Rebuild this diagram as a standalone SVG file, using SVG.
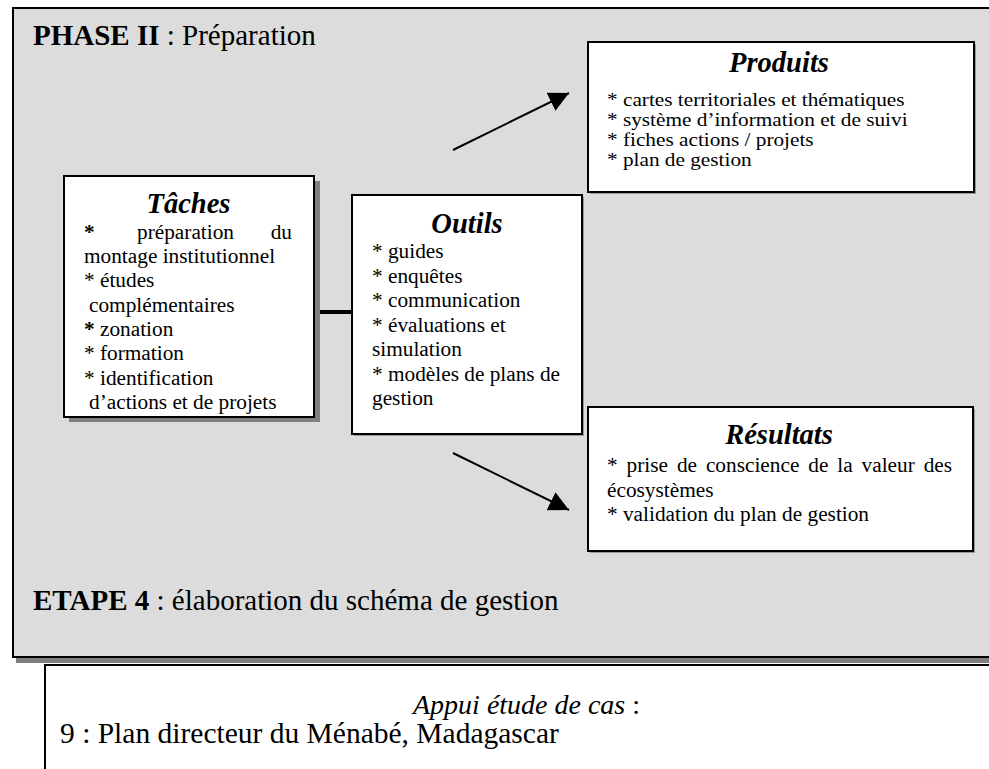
<svg xmlns="http://www.w3.org/2000/svg" width="989" height="769" viewBox="0 0 989 769">
  <style>
    text { font-family: "Liberation Serif", "Times New Roman", serif; fill: #000; }
    .body { font-size: 21.3px; }
    .tight { font-size: 18.5px; }
    .title { font-size: 28.5px; font-weight: bold; font-style: italic; text-anchor: middle; }
    .head { font-size: 29px; }
    .foot { font-size: 28px; }
    .foot-wide { font-size: 29.5px; }
    .b { font-weight: bold; }
    .i { font-style: italic; }
    .box { fill: #fff; stroke: #000; stroke-width: 2; }
    .shadow { fill: #808080; }
    .edge { fill: #9a9a9a; }
    .link { stroke: #000; fill: none; }
  </style>
  <defs>
    <marker id="arrow" viewBox="0 0 20 20" refX="20" refY="10" markerWidth="20" markerHeight="20" markerUnits="userSpaceOnUse" orient="auto">
      <path d="M0,0 L20,10 L0,20 Z" fill="#000"/>
    </marker>
  </defs>

  <!-- phase frame with drop shadow -->
  <g id="phase-frame">
    <rect class="shadow" x="16" y="12" width="990" height="651"/>
    <rect x="13" y="8" width="990" height="649" fill="#DCDCDC" stroke="#000" stroke-width="2"/>
    <text class="head" x="33" y="45"><tspan class="b">PHASE II</tspan> : Préparation</text>
    <text class="head" x="33" y="610"><tspan class="b">ETAPE 4</tspan> : élaboration du schéma de gestion</text>
  </g>

  <!-- connectors -->
  <g id="connectors">
    <line class="link" x1="314" y1="312" x2="352" y2="312" stroke-width="4"/>
    <line class="link" x1="453" y1="150" x2="569" y2="93" stroke-width="2" marker-end="url(#arrow)"/>
    <line class="link" x1="453" y1="453" x2="569" y2="510" stroke-width="2" marker-end="url(#arrow)"/>
  </g>

  <g id="taches">
    <rect class="shadow" x="69" y="181" width="251" height="241"/>
    <rect class="box" x="64" y="176" width="250" height="241"/>
    <text class="title" x="188.5" y="213">Tâches</text>
    <text class="body" y="239"><tspan class="b" x="84">*</tspan><tspan x="137">préparation</tspan><tspan x="292" text-anchor="end">du</tspan></text>
    <text class="body" x="84" y="263">montage institutionnel</text>
    <text class="body" x="84" y="287">* études</text>
    <text class="body" x="89" y="312">complémentaires</text>
    <text class="body" x="84" y="336"><tspan class="b">*</tspan> zonation</text>
    <text class="body" x="84" y="360">* formation</text>
    <text class="body" x="84" y="385">* identification</text>
    <text class="body" x="89" y="409">d’actions et de projets</text>
  </g>

  <g id="outils">
    <rect class="edge" x="354" y="197" width="230" height="239"/>
    <rect class="box" x="352" y="195" width="230" height="239"/>
    <text class="title" x="467" y="233">Outils</text>
    <text class="body" x="372" y="258">* guides</text>
    <text class="body" x="372" y="282.5">* enquêtes</text>
    <text class="body" x="372" y="307">* communication</text>
    <text class="body" x="372" y="331.5">* évaluations et</text>
    <text class="body" x="372" y="356">simulation</text>
    <text class="body" x="372" y="380.5">* modèles de plans de</text>
    <text class="body" x="372" y="405">gestion</text>
  </g>

  <g id="produits">
    <rect class="edge" x="590" y="44" width="386" height="150"/>
    <rect class="box" x="588" y="42" width="386" height="150"/>
    <text class="title" x="779" y="72">Produits</text>
    <!-- tightly spaced list: narrower type widened back to the column width -->
    <g transform="matrix(1.15,0,0,1,-91.05,0)">
      <text class="tight" x="607" y="106">* cartes territoriales et thématiques</text>
      <text class="tight" x="607" y="126">* système d’information et de suivi</text>
      <text class="tight" x="607" y="146">* fiches actions / projets</text>
      <text class="tight" x="607" y="166">* plan de gestion</text>
    </g>
  </g>

  <g id="resultats">
    <rect class="edge" x="590" y="409" width="385" height="144"/>
    <rect class="box" x="588" y="407" width="385" height="144"/>
    <text class="title" x="779" y="444">Résultats</text>
    <text class="body" x="607" y="472" word-spacing="3.6">* prise de conscience de la valeur des</text>
    <text class="body" x="607" y="497">écosystèmes</text>
    <text class="body" x="607" y="521">* validation du plan de gestion</text>
  </g>

  <g id="appui">
    <rect class="box" x="45" y="665" width="960" height="120"/>
    <text class="foot" x="413" y="714"><tspan class="i">Appui étude de cas</tspan> :</text>
    <text class="foot-wide" x="60" y="743">9 : Plan directeur du Ménabé, Madagascar</text>
  </g>
</svg>
